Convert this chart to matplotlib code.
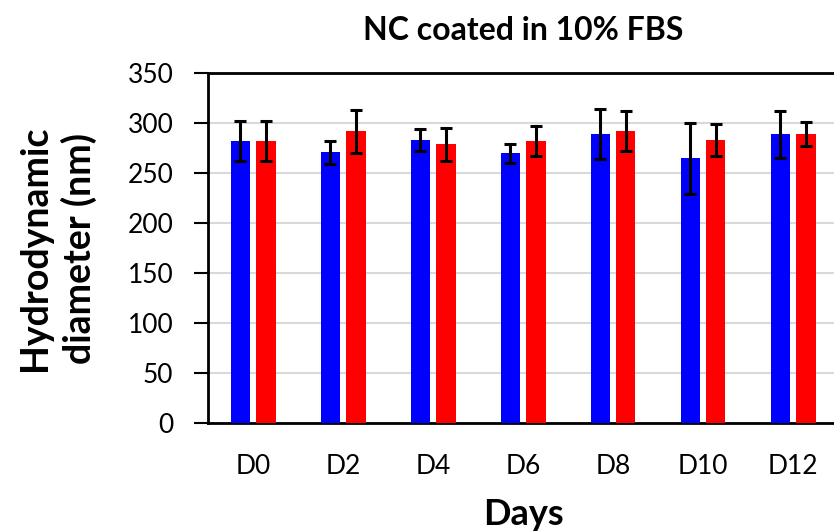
import matplotlib
matplotlib.use('Agg')
import matplotlib.pyplot as plt
import numpy as np

plt.rcParams['font.family'] = ['Lato', 'DejaVu Sans']

# data to plot
days = ['D0', 'D2', 'D4', 'D6', 'D8', 'D10', 'D12']
blue_vals = [282, 271, 283, 270, 289, 265, 289]
blue_err = [20, 11.5, 11, 9.5, 25, 35.5, 23.5]
red_vals = [282, 292, 279, 282, 292, 283, 289]
red_err = [20, 21.5, 16.5, 15, 20, 16, 12]

# create plot
fig = plt.figure(figsize=(8.34, 5.31), dpi=100)
ax = fig.add_axes([208/834, 108/531, 630/834, 350/531])
index = np.arange(len(days))
bar_width = 0.222
offset = 0.139

err_kw = dict(ecolor='black', elinewidth=2.2, capsize=4.3, capthick=2.2)
ax.bar(index - offset, blue_vals, bar_width, yerr=blue_err, color='#0000ff',
       error_kw=err_kw, zorder=3)
ax.bar(index + offset, red_vals, bar_width, yerr=red_err, color='#ff0000',
       error_kw=err_kw, zorder=3)

ax.set_xlim(-0.5, len(days) - 0.5)
ax.set_ylim(0, 350)
ax.set_yticks(np.arange(0, 351, 50))
ax.set_xticks(index)
ax.set_xticklabels(days)
ax.yaxis.grid(True, color='#d9d9d9', linewidth=1.5, zorder=0)
ax.set_axisbelow(True)

for s in ['left', 'bottom', 'top']:
    ax.spines[s].set_linewidth(2)
    ax.spines[s].set_color('black')
ax.spines['right'].set_visible(False)

ax.tick_params(axis='y', length=10, width=1.5, pad=15, labelsize=19, direction='out')
ax.tick_params(axis='x', length=0, pad=22, labelsize=19)

ax.set_title('NC coated in 10% FBS', fontsize=23, fontweight='bold', pad=24)
ax.set_xlabel('Days', fontsize=26, fontweight='bold', labelpad=14)
ax.set_ylabel('Hydrodynamic\ndiameter (nm)', fontsize=27, fontweight='bold',
              labelpad=22, linespacing=1.3)

plt.savefig('out.png', dpi=100)
